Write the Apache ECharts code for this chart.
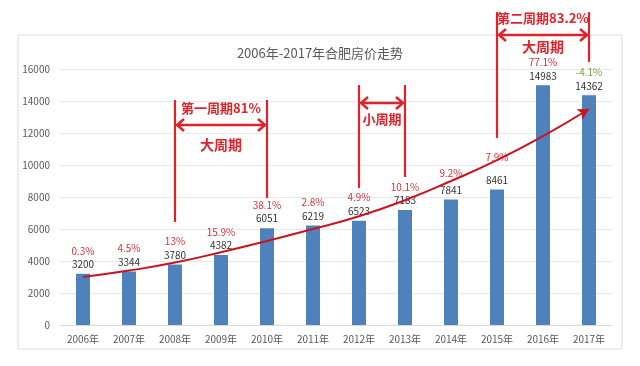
<!DOCTYPE html>
<html><head><meta charset="utf-8">
<script src="https://cdn.jsdelivr.net/npm/echarts@6/dist/echarts.min.js"></script>
<style>html,body{margin:0;padding:0;background:#fff}#c{width:640px;height:366px}</style>
</head><body><div id="c"></div>
<script>
const years = ['2006年','2007年','2008年','2009年','2010年','2011年','2012年','2013年','2014年','2015年','2016年','2017年'];
const prices = [3200,3344,3780,4382,6051,6219,6523,7183,7841,8461,14983,14362];
const growth = ['0.3%','4.5%','13%','15.9%','38.1%','2.8%','4.9%','10.1%','9.2%','7.9%','77.1%','-4.1%'];
const trend = [3000,3400,3900,4550,5250,6000,6800,7800,9000,10300,11800,13500];
const yTicks = [0,2000,4000,6000,8000,10000,12000,14000,16000];

// annotation brackets (positions in data units)
const brackets = [
  {from:'2008年', to:'2010年', top:14060, leftBottom:6440, rightBottom:7940, arrowY:12500, title:'第一周期81%', titleY:13560, sub:'大周期', subY:11250},
  {from:'2012年', to:'2013年', top:15000, leftBottom:8560, rightBottom:9250, arrowY:13875, title:'小周期', titleY:12875},
  {from:'2015年', to:'2017年', top:19560, leftBottom:11690, rightBottom:16440, arrowY:18125, title:'第二周期83.2%', titleY:19190, sub:'大周期', subY:17375}
];
const pctLift = {'2014年':6, '2015年':19};

const RED = '#e0232b';
const FONT = '"Noto Sans CJK SC", "Noto Sans", sans-serif';

const barData = prices.map((v,i)=>{
  const lift = pctLift[years[i]] || 0;
  const neg = growth[i].startsWith('-');
  return {value:v, label:{show:true, position:'top', distance:3,
    formatter:'{p|'+growth[i]+'}\n{v|'+v+'}',
    rich:{
      p:{color: neg ? '#72a244' : '#d2343a', fontSize:10, fontFamily:FONT, lineHeight:14, padding:[0,0,lift,0]},
      v:{color:'#333', fontSize:10, fontFamily:FONT, lineHeight:13}
    }}};
});
const trendData = trend.map((v,i)=> i===trend.length-1 ? {value:v, symbol:'arrow', symbolSize:[9,11], symbolRotate:-60} : v);

const chart = echarts.init(document.getElementById('c'));
chart.setOption({
  animation:false,
  title:{text:'2006年-2017年合肥房价走势', left:'center', top:42, textStyle:{color:'#595959', fontSize:13, fontWeight:'normal', fontFamily:FONT}},
  grid:{left:60, right:28, top:69, bottom:41},
  xAxis:{type:'category', data:years, axisTick:{show:false}, axisLine:{lineStyle:{color:'#d9d9d9'}},
    axisLabel:{color:'#595959', fontSize:10, margin:9, fontFamily:FONT}},
  yAxis:{type:'value', min:yTicks[0], max:yTicks[yTicks.length-1], interval:2000, axisLine:{show:false}, axisTick:{show:false},
    splitLine:{lineStyle:{color:'#e8e8e8'}}, axisLabel:{color:'#595959', fontSize:10, margin:10, fontFamily:FONT, formatter:v=>String(v)}},
  series:[
    {type:'bar', data:barData, barWidth:14, itemStyle:{color:'#4f81bd'}, z:2},
    {type:'line', data:trendData, smooth:true, symbol:'none', showSymbol:true, lineStyle:{color:'#c8141e', width:2}, itemStyle:{color:'#c8141e'}, z:3, silent:true}
  ]
});

function px(cat,val){ return chart.convertToPixel({xAxisIndex:0,yAxisIndex:0},[cat,val]); }
const g = [{type:'rect', shape:{x:18,y:35,width:604,height:314}, style:{fill:'#fff', stroke:'#dcdcdc', lineWidth:1}, z:-100, silent:true}];
brackets.forEach(b=>{
  const lt = px(b.from,b.top), lb = px(b.from,b.leftBottom);
  const rt = px(b.to,b.top), rb = px(b.to,b.rightBottom);
  const ay = px(b.from,b.arrowY)[1];
  const x1 = lt[0], x2 = rt[0];
  const ls = {stroke:RED, lineWidth:2.2, fill:null};
  g.push({type:'line', shape:{x1:x1,y1:lt[1],x2:x1,y2:lb[1]}, style:ls, z:10});
  g.push({type:'line', shape:{x1:x2,y1:rt[1],x2:x2,y2:rb[1]}, style:ls, z:10});
  g.push({type:'line', shape:{x1:x1+2,y1:ay,x2:x2-2,y2:ay}, style:{stroke:RED,lineWidth:2.5}, z:10});
  g.push({type:'polyline', shape:{points:[[x1+9,ay-6],[x1+2,ay],[x1+9,ay+6]]}, style:{stroke:RED,lineWidth:2.5,fill:null}, z:10});
  g.push({type:'polyline', shape:{points:[[x2-9,ay-6],[x2-2,ay],[x2-9,ay+6]]}, style:{stroke:RED,lineWidth:2.5,fill:null}, z:10});
  const cx = (x1+x2)/2;
  g.push({type:'text', x:cx, y:px(b.from,b.titleY)[1], style:{text:b.title, fill:RED, font:'bold 13px '+FONT, align:'center', verticalAlign:'middle'}, z:10});
  if (b.sub) g.push({type:'text', x:cx, y:px(b.from,b.subY)[1], style:{text:b.sub, fill:RED, font:'bold 14px '+FONT, align:'center', verticalAlign:'middle'}, z:10});
});
chart.setOption({graphic:g});
</script>
</body></html>
